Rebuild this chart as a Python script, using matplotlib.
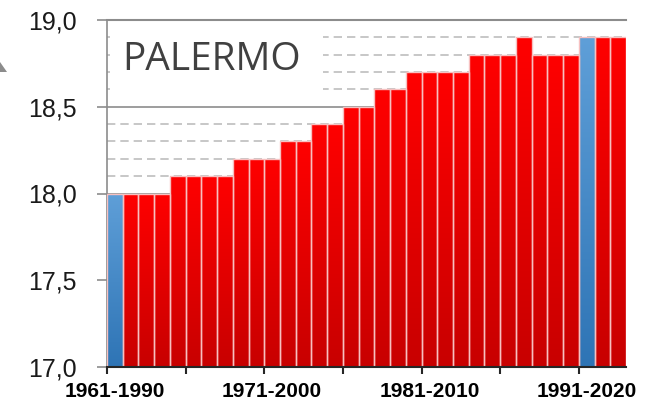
import numpy as np
import matplotlib
matplotlib.use("Agg")
import matplotlib.pyplot as plt
from matplotlib.patches import Rectangle, Polygon
from matplotlib.ticker import FuncFormatter, MultipleLocator, FixedLocator
from matplotlib.colors import LinearSegmentedColormap

# ---- data ----
start_years = list(range(1961, 1994))
categories = [f"{y}-{y+29}" for y in start_years]
values = [18.0, 18.0, 18.0, 18.0,
          18.1, 18.1, 18.1, 18.1,
          18.2, 18.2, 18.2,
          18.3, 18.3,
          18.4, 18.4,
          18.5, 18.5,
          18.6, 18.6,
          18.7, 18.7, 18.7, 18.7,
          18.8, 18.8, 18.8,
          18.9,
          18.8, 18.8, 18.8,
          18.9,
          18.9, 18.9]
reference_periods = ["1961-1990", "1991-2020"]
label_periods = ["1961-1990", "1971-2000", "1981-2010", "1991-2020"]
title_text = "PALERMO"

W, H = 646, 407
fig = plt.figure(figsize=(W / 100, H / 100), dpi=100)
ax = fig.add_axes([107 / W, (H - 367) / H, (626 - 107) / W, (367 - 20) / H])

ymin, ymax = 17.0, 19.0

# gridlines
for g in np.arange(17.1, 19.0, 0.1):
    g = round(g, 1)
    if abs(g * 2 - round(g * 2)) < 1e-6:
        ax.axhline(g, color="#8c8c8c", lw=1.2, zorder=0)
    else:
        ax.axhline(g, color="#bdbdbd", lw=1.2, ls=(0, (5, 3)), zorder=0)
ax.axhline(19.0, color="#8c8c8c", lw=1.5, zorder=0, clip_on=False)

# white text box covering gridlines
ax.add_patch(Rectangle((-0.3, 18.55), 13.55, 0.42, facecolor="white",
                       edgecolor="none", zorder=1))
ax.text(0.5, 18.77, title_text, fontsize=28, color="#404040",
        family="Open Sans", va="center", ha="left", zorder=2)

# gradient bars
grad = np.linspace(0, 1, 256).reshape(-1, 1)
red_cmap = LinearSegmentedColormap.from_list("r", ["#c80000", "#ff0000"])
blue_cmap = LinearSegmentedColormap.from_list("b", ["#2e74b5", "#5f9fd8"])

bars = ax.bar(range(len(categories)), [v - ymin for v in values], bottom=ymin,
              width=1.0, facecolor="none", edgecolor="#f7c0c0", lw=1.0, zorder=4)
for i, (b, v) in enumerate(zip(bars, values)):
    cmap = blue_cmap if categories[i] in reference_periods else red_cmap
    im = ax.imshow(grad, cmap=cmap, aspect="auto", origin="lower",
                   extent=(i - 0.5, i + 0.5, ymin, v), zorder=3,
                   interpolation="bilinear")
    clip = Rectangle((i - 0.5, ymin), 1.0, v - ymin, transform=ax.transData)
    im.set_clip_path(clip)
ax.set_xlim(-0.5, len(categories) - 0.5)
ax.set_ylim(ymin, ymax)

# axes styling
for s in ["top", "right"]:
    ax.spines[s].set_visible(False)
ax.spines["left"].set_color("#8c8c8c")
ax.spines["left"].set_linewidth(1.2)
ax.spines["bottom"].set_color("#262626")
ax.spines["bottom"].set_linewidth(1.5)
ax.spines["bottom"].set_zorder(6)

ax.yaxis.set_major_locator(MultipleLocator(0.5))
ax.yaxis.set_major_formatter(FuncFormatter(lambda v, p: f"{v:.1f}".replace(".", ",")))
ax.tick_params(axis="y", direction="out", length=7, width=1.2, color="#8c8c8c",
               labelsize=18, pad=15, labelcolor="#1a1a1a")
for t in ax.get_yticklabels():
    t.set_family("Liberation Sans")

label_pos = [categories.index(c) for c in label_periods]
ax.xaxis.set_major_locator(FixedLocator(label_pos))
ax.set_xticklabels(label_periods)
ax.xaxis.set_minor_locator(FixedLocator([i - 0.5 for i in range(0, 31, 5)]))
ax.tick_params(axis="x", which="major", length=0, pad=11, labelsize=15)
ax.tick_params(axis="x", which="minor", length=5, width=1.5, color="#262626")
for t in ax.get_xticklabels():
    t.set_family("Liberation Sans")
    t.set_fontweight("bold")

# partial gray triangle at left edge
fig.patches.append(Polygon([(0, (H - 62) / H), (7 / W, (H - 72) / H), (0, (H - 72) / H)],
                           closed=True, transform=fig.transFigure,
                           facecolor="#8c8c8c", edgecolor="none"))

fig.savefig("out.png", dpi=100)
